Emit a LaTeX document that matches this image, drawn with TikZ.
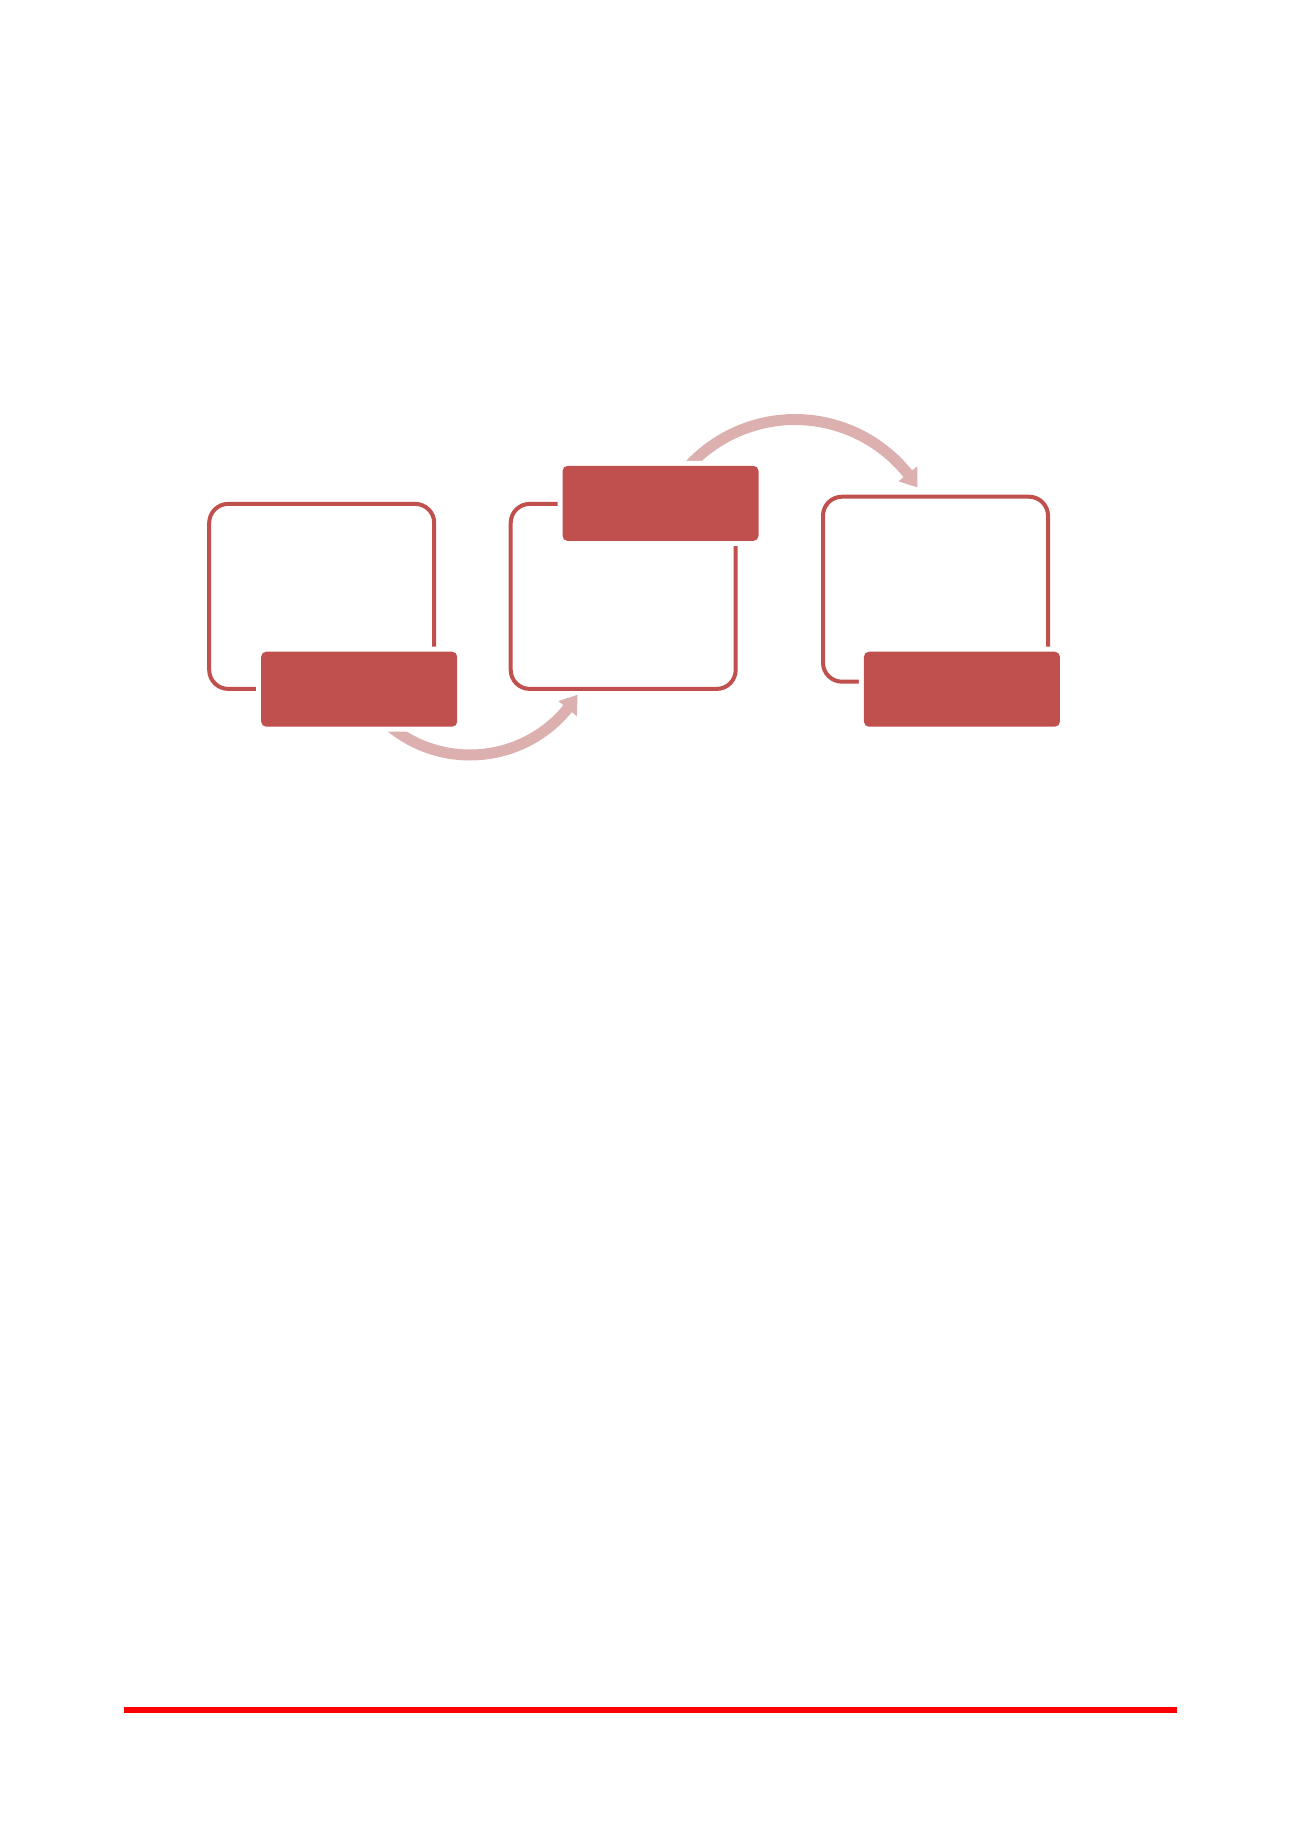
\documentclass[tikz,border=0pt]{standalone}
\definecolor{accent}{RGB}{192,80,77}
\definecolor{arrowpink}{RGB}{221,176,176}
\definecolor{rulered}{RGB}{255,0,0}
\begin{document}
\begin{tikzpicture}[x=1pt,y=-1pt,
  outlinebox/.style={draw=accent, line width=4pt, rounded corners=19pt,
    minimum width=225pt, minimum height=185pt, inner sep=0pt, outer sep=0pt},
  filledbox/.style={fill=accent, rounded corners=5pt, minimum width=196pt,
    minimum height=75pt, inner sep=0pt, outer sep=0pt,
    preaction={draw=white, line width=10pt}},
  flowarrow/.style={fill=arrowpink, draw=none},
  baserule/.style={draw=rulered, line width=6pt}]
\useasboundingbox (0,0) rectangle (1300,1839);
\fill[white] (0,0) rectangle (1300,1839);

% outline frames
\node[outlinebox] (b1) at (321.7,596.4) {};
\node[outlinebox] (b2) at (623.2,596.4) {};
\node[outlinebox] (b3) at (935.5,589.2) {};

% curved arrow 1 (below, from rect 1 towards frame 2)
\coordinate (c1) at (470,629);
\fill[flowarrow]
  plot[domain=133.8:39.2, samples=40, variable=\t] ({470+131.5*cos(\t)},{629+131.5*sin(\t)})
  -- ({470+138*cos(39.2)},{629+138*sin(39.2)})
  -- ({470+126*cos(31.5)},{629+126*sin(31.5)})
  -- ({470+114*cos(39.2)},{629+114*sin(39.2)})
  -- plot[domain=39.2:133.8, samples=40, variable=\t] ({470+120.5*cos(\t)},{629+120.5*sin(\t)})
  -- cycle;

% curved arrow 2 (above, from rect 2 towards frame 3)
\coordinate (c2) at (795,563.9);
\fill[flowarrow]
  plot[domain=-139.5:-38.6, samples=40, variable=\t] ({795+149.9*cos(\t)},{563.9+149.9*sin(\t)})
  -- ({795+156.4*cos(-38.6)},{563.9+156.4*sin(-38.6)})
  -- ({795+144.4*cos(-32)},{563.9+144.4*sin(-32)})
  -- ({795+132.4*cos(-38.6)},{563.9+132.4*sin(-38.6)})
  -- plot[domain=-38.6:-139.5, samples=40, variable=\t] ({795+138.9*cos(\t)},{563.9+138.9*sin(\t)})
  -- cycle;

% filled label boxes
\node[filledbox] (r1) at (359.2,689.2) {};
\node[filledbox] (r2) at (660.5,503.4) {};
\node[filledbox] (r3) at (961.9,689.2) {};

% bottom rule
\coordinate (ruleL) at (124,1710);
\coordinate (ruleR) at (1177,1710);
\draw[baserule] (ruleL) -- (ruleR);
\end{tikzpicture}
\end{document}
